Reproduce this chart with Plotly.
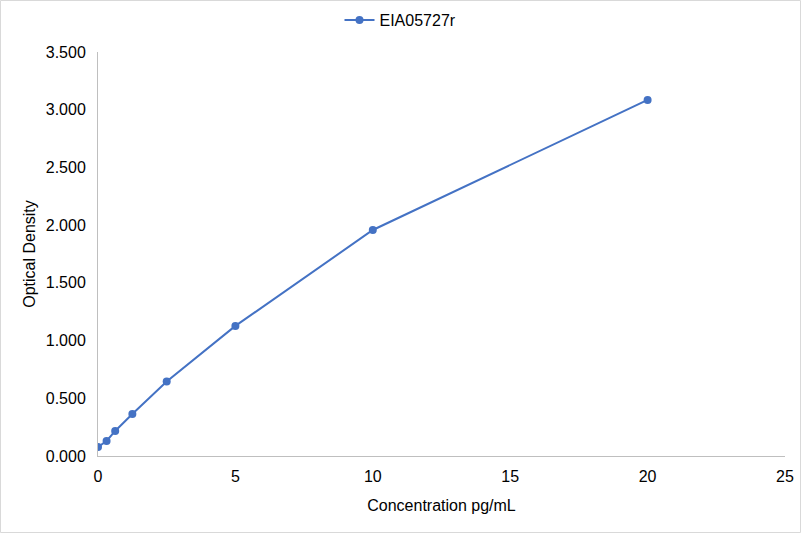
import plotly.graph_objects as go

# datos
concentracion = [0, 0.3125, 0.625, 1.25, 2.5, 5, 10, 20]
densidad = [0.078, 0.13, 0.217, 0.364, 0.645, 1.127, 1.958, 3.085]
serie = "EIA05727r"

ticks_y = [0, 0.5, 1.0, 1.5, 2.0, 2.5, 3.0, 3.5]
ticks_x = [0, 5, 10, 15, 20, 25]

fig = go.Figure()
fig.add_trace(go.Scatter(x=concentracion, y=densidad, mode="lines+markers", name=serie,
                         line=dict(color="#4472C4", width=2),
                         marker=dict(color="#4472C4", size=8)))

fig.update_layout(
    width=801, height=533,
    paper_bgcolor="white", plot_bgcolor="white",
    margin=dict(l=98, r=16, t=52, b=77, autoexpand=False),
    font=dict(family="Liberation Sans, Arial", size=16, color="#000000"),
    showlegend=True,
    legend=dict(orientation="h", x=0.5, xanchor="center", xref="container",
                y=1 - 20 / 533, yanchor="middle", yref="container",
                font=dict(size=16, color="#000000")),
)
fig.update_xaxes(range=[0, 25], tickvals=ticks_x, showgrid=False, zeroline=False,
                 showline=True, linecolor="#BFBFBF", linewidth=1,
                 ticks="", ticklabelstandoff=6,
                 title=dict(text="Concentration pg/mL", font=dict(size=16), standoff=15))
fig.update_yaxes(range=[0, 3.5], tickvals=ticks_y, tickformat=".3f", showgrid=False,
                 zeroline=False, showline=True, linecolor="#BFBFBF", linewidth=1,
                 ticks="", ticklabelstandoff=8,
                 title=dict(text="Optical Density", font=dict(size=16), standoff=6))
# borde exterior
fig.add_shape(type="rect", xref="paper", yref="paper", x0=-97.5/687, x1=1 + 15.5/687,
              y0=-76.5/404, y1=1 + 51.5/404, line=dict(color="#D9D9D9", width=1))

# quitar el margen del body para que la grafica empiece en (0,0)
fig.write_html("out.html", config={"displayModeBar": False},
               post_script="document.body.style.margin='0';")
